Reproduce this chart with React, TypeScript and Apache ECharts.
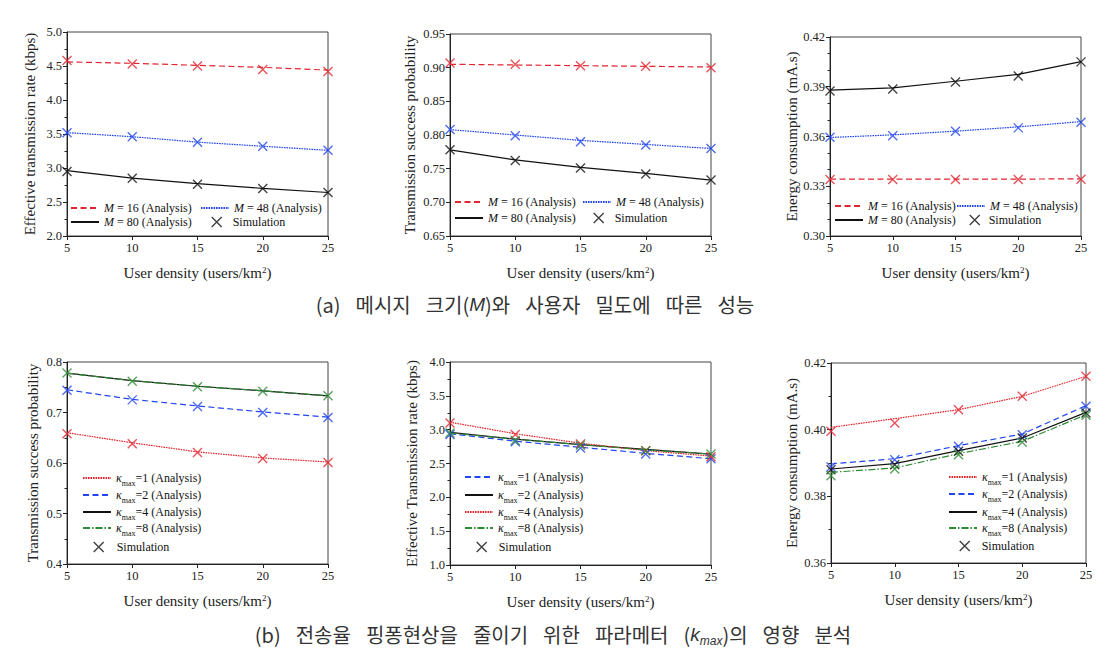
import React, { useEffect, useRef } from 'react';
import * as echarts from 'echarts';

// ---------- data ----------
const xDensity = [5, 10, 15, 20, 25];

// (a) effective transmission rate vs message size M
const rateM16 = [4.56, 4.54, 4.51, 4.48, 4.44];
const rateM48 = [3.52, 3.46, 3.38, 3.32, 3.26];
const rateM80 = [2.96, 2.85, 2.77, 2.70, 2.64];
const rateSimM16 = [4.58, 4.53, 4.50, 4.45, 4.42];
const rateSimM48 = [3.52, 3.46, 3.38, 3.32, 3.26];
const rateSimM80 = [2.95, 2.85, 2.76, 2.70, 2.64];

// (a) transmission success probability
const probM16 = [0.905, 0.904, 0.903, 0.902, 0.901];
const probM48 = [0.808, 0.800, 0.792, 0.786, 0.780];
const probM80 = [0.778, 0.763, 0.752, 0.743, 0.733];
const probSimM16 = [0.907, 0.905, 0.903, 0.902, 0.900];
const probSimM48 = [0.808, 0.799, 0.790, 0.785, 0.780];
const probSimM80 = [0.778, 0.762, 0.751, 0.742, 0.733];

// (a) energy consumption
const energyM16 = [0.3343, 0.3343, 0.3343, 0.3343, 0.3345];
const energyM48 = [0.3594, 0.3610, 0.3632, 0.3658, 0.3690];
const energyM80 = [0.3880, 0.3893, 0.3933, 0.3975, 0.4051];
const energySimM16 = [0.3341, 0.3341, 0.3341, 0.3341, 0.3342];
const energySimM48 = [0.3595, 0.3605, 0.3632, 0.3652, 0.3686];
const energySimM80 = [0.3875, 0.3887, 0.3928, 0.3965, 0.4050];

// (b) transmission success probability vs kappa_max
const probK1 = [0.660, 0.640, 0.622, 0.610, 0.602];
const probK2 = [0.745, 0.726, 0.713, 0.701, 0.691];
const probK4 = [0.778, 0.763, 0.752, 0.743, 0.733];
const probK8 = [0.778, 0.763, 0.752, 0.743, 0.733];
const probSimK1 = [0.658, 0.638, 0.621, 0.609, 0.601];
const probSimK2 = [0.744, 0.725, 0.712, 0.700, 0.690];
const probSimK8 = [0.778, 0.762, 0.751, 0.742, 0.733];

// (b) effective transmission rate
const rateK1 = [2.94, 2.83, 2.74, 2.65, 2.57];
const rateK2 = [2.96, 2.86, 2.78, 2.71, 2.64];
const rateK4 = [3.11, 2.94, 2.80, 2.69, 2.61];
const rateK8 = [2.95, 2.86, 2.78, 2.70, 2.64];
const rateSimK1 = [2.93, 2.82, 2.73, 2.64, 2.57];
const rateSimK4 = [3.10, 2.93, 2.79, 2.69, 2.60];
const rateSimK8 = [2.95, 2.84, 2.77, 2.69, 2.64];

// (b) energy consumption
const energyK1 = [0.4007, 0.4033, 0.4060, 0.4100, 0.4160];
const energyK2 = [0.3897, 0.3913, 0.3952, 0.3987, 0.4072];
const energyK4 = [0.3882, 0.3898, 0.3937, 0.3975, 0.4052];
const energyK8 = [0.3872, 0.3885, 0.3928, 0.3965, 0.4045];
const energySimK1 = [0.3995, 0.4020, 0.4060, 0.4100, 0.4160];
const energySimK2 = [0.3888, 0.3910, 0.3950, 0.3985, 0.4070];
const energySimK4 = [0.3880, 0.3895, 0.3935, 0.3975, 0.4050];
const energySimK8 = [0.3862, 0.3882, 0.3925, 0.3962, 0.4043];

// ---------- styles ----------
const SERIF = '"Liberation Serif", "Times New Roman", serif';
const RED = '#e3242f';
const BLUE = '#2145ee';
const BLACK = '#111111';
const GREEN = '#2e8b34';
const DASHED = [6, 3.5];
const DOTTED = [1.6, 0.9];
const DASHDOT = [7, 2, 1.5, 2];
const X_PATH = 'path://M0,0L10,10M10,0L0,10';

const labelText: Record<string, string> = {
  M16: '{i|M} = 16 (Analysis)',
  M48: '{i|M} = 48 (Analysis)',
  M80: '{i|M} = 80 (Analysis)',
  k1: '{k|κ}{s|max}=1 (Analysis)',
  k2: '{k|κ}{s|max}=2 (Analysis)',
  k4: '{k|κ}{s|max}=4 (Analysis)',
  k8: '{k|κ}{s|max}=8 (Analysis)',
  sim: 'Simulation',
};

type LineDef = { key: string; data: number[]; sim?: number[]; color: string; dash: any };
type LegPos = { key: string; text: number; y: number; xc?: number };
type Panel = {
  grid: { left: number; top: number; width: number; height: number };
  yName: string; yMin: number; yMax: number; yInt: number; dec: number; minor: number;
  nameGap: number; lines: LineDef[]; legend: LegPos[]; sub: boolean;
};

const panels: Panel[] = [
  {
    grid: { left: 67, top: 32, width: 261, height: 204 },
    yName: 'Effective transmission rate (kbps)', yMin: 2, yMax: 5, yInt: 0.5, dec: 1, minor: 2, nameGap: 30, sub: false,
    lines: [
      { key: 'M16', data: rateM16, sim: rateSimM16, color: RED, dash: DASHED },
      { key: 'M48', data: rateM48, sim: rateSimM48, color: BLUE, dash: DOTTED },
      { key: 'M80', data: rateM80, sim: rateSimM80, color: BLACK, dash: 'solid' },
    ],
    legend: [
      { key: 'M16', text: 103, y: 208 }, { key: 'M80', text: 103, y: 222 },
      { key: 'M48', text: 233, y: 208 }, { key: 'sim', text: 232, y: 222, xc: 216 },
    ],
  },
  {
    grid: { left: 450, top: 34, width: 261, height: 202 },
    yName: 'Transmission success probability', yMin: 0.65, yMax: 0.95, yInt: 0.05, dec: 2, minor: 0, nameGap: 33, sub: false,
    lines: [
      { key: 'M16', data: probM16, sim: probSimM16, color: RED, dash: DASHED },
      { key: 'M48', data: probM48, sim: probSimM48, color: BLUE, dash: DOTTED },
      { key: 'M80', data: probM80, sim: probSimM80, color: BLACK, dash: 'solid' },
    ],
    legend: [
      { key: 'M16', text: 487, y: 202 }, { key: 'M80', text: 487, y: 218 },
      { key: 'M48', text: 615, y: 202 }, { key: 'sim', text: 614, y: 218, xc: 598 },
    ],
  },
  {
    grid: { left: 830, top: 37, width: 251, height: 199 },
    yName: 'Energy consumption (mA.s)', yMin: 0.3, yMax: 0.42, yInt: 0.03, dec: 2, minor: 3, nameGap: 30, sub: false,
    lines: [
      { key: 'M16', data: energyM16, sim: energySimM16, color: RED, dash: DASHED },
      { key: 'M48', data: energyM48, sim: energySimM48, color: BLUE, dash: DOTTED },
      { key: 'M80', data: energyM80, sim: energySimM80, color: BLACK, dash: 'solid' },
    ],
    legend: [
      { key: 'M16', text: 867, y: 206 }, { key: 'M80', text: 867, y: 220 },
      { key: 'M48', text: 989, y: 206 }, { key: 'sim', text: 988, y: 220, xc: 974 },
    ],
  },
  {
    grid: { left: 67, top: 362, width: 261, height: 202 },
    yName: 'Transmission success probability', yMin: 0.4, yMax: 0.8, yInt: 0.1, dec: 1, minor: 2, nameGap: 27, sub: true,
    lines: [
      { key: 'k1', data: probK1, sim: probSimK1, color: RED, dash: DOTTED },
      { key: 'k2', data: probK2, sim: probSimK2, color: BLUE, dash: DASHED },
      { key: 'k4', data: probK4, color: BLACK, dash: 'solid' },
      { key: 'k8', data: probK8, sim: probSimK8, color: GREEN, dash: DASHDOT },
    ],
    legend: [
      { key: 'k1', text: 115, y: 478 }, { key: 'k2', text: 115, y: 495 },
      { key: 'k4', text: 115, y: 512 }, { key: 'k8', text: 115, y: 528 },
      { key: 'sim', text: 116, y: 547, xc: 98 },
    ],
  },
  {
    grid: { left: 450, top: 362, width: 261, height: 203 },
    yName: 'Effective Transmission rate (kbps)', yMin: 1, yMax: 4, yInt: 0.5, dec: 1, minor: 2, nameGap: 31, sub: true,
    lines: [
      { key: 'k1', data: rateK1, sim: rateSimK1, color: BLUE, dash: DASHED },
      { key: 'k2', data: rateK2, color: BLACK, dash: 'solid' },
      { key: 'k4', data: rateK4, sim: rateSimK4, color: RED, dash: DOTTED },
      { key: 'k8', data: rateK8, sim: rateSimK8, color: GREEN, dash: DASHDOT },
    ],
    legend: [
      { key: 'k1', text: 497, y: 477 }, { key: 'k2', text: 497, y: 495 },
      { key: 'k4', text: 497, y: 512 }, { key: 'k8', text: 497, y: 528 },
      { key: 'sim', text: 498, y: 547, xc: 481 },
    ],
  },
  {
    grid: { left: 831, top: 363, width: 255, height: 200 },
    yName: 'Energy consumption (mA.s)', yMin: 0.36, yMax: 0.42, yInt: 0.02, dec: 2, minor: 2, nameGap: 32, sub: true,
    lines: [
      { key: 'k1', data: energyK1, sim: energySimK1, color: RED, dash: DOTTED },
      { key: 'k2', data: energyK2, sim: energySimK2, color: BLUE, dash: DASHED },
      { key: 'k4', data: energyK4, sim: energySimK4, color: BLACK, dash: 'solid' },
      { key: 'k8', data: energyK8, sim: energySimK8, color: GREEN, dash: DASHDOT },
    ],
    legend: [
      { key: 'k1', text: 981, y: 477 }, { key: 'k2', text: 981, y: 494 },
      { key: 'k4', text: 981, y: 512 }, { key: 'k8', text: 981, y: 528 },
      { key: 'sim', text: 981, y: 546, xc: 964 },
    ],
  },
];

const legendRich = {
  i: { fontStyle: 'italic', fontFamily: SERIF, fontSize: 12, color: '#111' },
  k: { fontStyle: 'italic', fontFamily: SERIF, fontSize: 12, color: '#111' },
  s: { fontFamily: SERIF, fontSize: 8, color: '#111', verticalAlign: 'bottom', lineHeight: 8 },
};

const KR = '"Noto Sans CJK KR", sans-serif';
const LAT = '"Liberation Sans", sans-serif';
const CAP_SIZE = 20;
const captionRich = {
  w: { fontFamily: KR, fontSize: CAP_SIZE, fill: '#333', width: 15 },
  i: { fontStyle: 'italic', fontFamily: LAT, fontSize: CAP_SIZE - 1, fill: '#333' },
  s: { fontStyle: 'italic', fontFamily: LAT, fontSize: 12, fill: '#333', verticalAlign: 'bottom', lineHeight: 12 },
};

function buildOption() {
  const grids: any[] = [];
  const xAxes: any[] = [];
  const yAxes: any[] = [];
  const series: any[] = [];
  const legends: any[] = [];
  const axisColor = '#222';

  panels.forEach((p, i) => {
    grids.push({ ...p.grid, show: true, borderColor: '#444', borderWidth: 1, backgroundColor: 'transparent' });
    xAxes.push({
      type: 'value', gridIndex: i, min: 5, max: 25, interval: 5,
      axisLine: { show: true, onZero: false, lineStyle: { color: axisColor, width: 1 } },
      axisTick: { show: true, inside: false, length: 4, lineStyle: { color: axisColor } },
      axisLabel: { fontFamily: SERIF, fontSize: 12.5, color: axisColor, margin: 5 },
      splitLine: { show: false },
      name: 'User density (users/km{sup|2})', nameLocation: 'middle', nameGap: 29,
      nameTextStyle: {
        fontFamily: SERIF, fontSize: 15, color: axisColor,
        rich: { sup: { fontFamily: SERIF, fontSize: 9, color: axisColor, verticalAlign: 'top' } },
      },
    });
    yAxes.push({
      type: 'value', gridIndex: i, min: p.yMin, max: p.yMax, interval: p.yInt,
      axisLine: { show: true, onZero: false, lineStyle: { color: axisColor, width: 1 } },
      axisTick: { show: true, inside: false, length: 4, lineStyle: { color: axisColor } },
      minorTick: { show: p.minor > 0, splitNumber: p.minor || 2, length: 2.5, lineStyle: { color: axisColor } },
      minorSplitLine: { show: false },
      axisLabel: { fontFamily: SERIF, fontSize: 12.5, color: axisColor, margin: 5, formatter: (v: number) => v.toFixed(p.dec) },
      splitLine: { show: false },
      name: p.yName, nameLocation: 'middle', nameGap: p.nameGap,
      nameTextStyle: { fontFamily: SERIF, fontSize: 15, color: axisColor },
    });

    p.lines.forEach((l) => {
      series.push({
        type: 'line', name: `p${i}_${l.key}`, xAxisIndex: i, yAxisIndex: i,
        data: xDensity.map((x, j) => [x, l.data[j]]),
        symbol: 'none', showSymbol: false, smooth: false, z: 2,
        lineStyle: { color: l.color, width: 1.2, type: l.dash },
        itemStyle: { color: l.color },
      });
    });
    p.lines.forEach((l) => {
      if (!l.sim) return;
      series.push({
        type: 'scatter', name: `p${i}_sim_${l.key}`, xAxisIndex: i, yAxisIndex: i,
        data: xDensity.map((x, j) => [x, l.sim![j]]),
        symbol: X_PATH, symbolSize: 9, z: 3,
        itemStyle: { color: 'rgba(0,0,0,0)', borderColor: l.color, borderWidth: 1.4 },
      });
    });
    series.push({
      type: 'scatter', name: `p${i}_sim`, xAxisIndex: i, yAxisIndex: i, data: [],
      symbol: X_PATH, symbolSize: 9,
      itemStyle: { color: 'rgba(0,0,0,0)', borderColor: BLACK, borderWidth: 1.4 },
    });

    p.legend.forEach((lg) => {
      const isSim = lg.key === 'sim';
      const lh = !isSim && p.sub ? 18 : 14;
      const name = isSim ? `p${i}_sim` : `p${i}_${lg.key}`;
      const left = isSim ? (lg.xc as number) - 5 : lg.text - 33;
      legends.push({
        show: true, selectedMode: false, orient: 'vertical', padding: 0,
        left, top: lg.y - lh / 2,
        itemWidth: isSim ? 10 : 28, itemHeight: isSim ? 10 : 12,
        data: [isSim
          ? { name, icon: X_PATH, itemStyle: { color: 'rgba(0,0,0,0)', borderColor: BLACK, borderWidth: 1.4 } }
          : { name, itemStyle: { color: 'rgba(0,0,0,0)', borderWidth: 0, opacity: 0 } }],
        formatter: () => labelText[lg.key],
        textStyle: {
          fontFamily: SERIF, fontSize: 12, color: '#111', lineHeight: lh,
          padding: isSim ? [0, 0, 0, lg.text - (left + 15)] : 0,
          rich: legendRich,
        },
      });
    });
  });

  const graphic = [
    {
      type: 'text', x: 535, y: 304,
      style: {
        text: '(a){w| }메시지{w| }크기({i|M})와{w| }사용자{w| }밀도에{w| }따른{w| }성능',
        textAlign: 'center', textVerticalAlign: 'middle',
        fontFamily: KR, fontSize: CAP_SIZE, fill: '#333',
        rich: captionRich,
      },
    },
    {
      type: 'text', x: 553, y: 634,
      style: {
        text: '(b){w| }전송율{w| }핑퐁현상을{w| }줄이기{w| }위한{w| }파라메터{w| }({i|k}{s|max})의{w| }영향{w| }분석',
        textAlign: 'center', textVerticalAlign: 'middle',
        fontFamily: KR, fontSize: CAP_SIZE, fill: '#333', lineHeight: 26,
        rich: captionRich,
      },
    },
  ];

  return {
    animation: false,
    backgroundColor: '#ffffff',
    grid: grids, xAxis: xAxes, yAxis: yAxes, series, legend: legends, graphic,
  };
}

export default function App() {
  const ref = useRef<HTMLDivElement>(null);
  useEffect(() => {
    document.body.style.margin = '0';
    if (!ref.current) return;
    const chart = echarts.init(ref.current, null, { renderer: 'svg' });
    chart.setOption(buildOption() as any);
    return () => chart.dispose();
  }, []);
  return <div ref={ref} style={{ width: 1107, height: 654 }} />;
}
